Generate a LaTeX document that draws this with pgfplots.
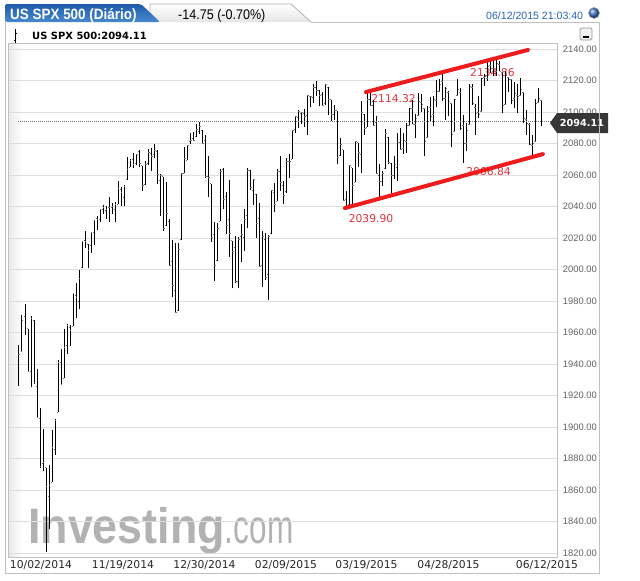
\documentclass[border=0pt]{standalone}
\usepackage{fontspec}
\setmainfont{DejaVu Sans}
\newfontfamily\arialf{Liberation Sans}
\usepackage{graphicx}
\usepackage{pgfplots}
\usepackage{pgfplotstable}
\pgfplotsset{compat=1.18}

\definecolor{gridc}{RGB}{222,222,222}
\definecolor{framec}{RGB}{192,192,192}
\definecolor{chan}{RGB}{238,28,28}
\definecolor{annot}{RGB}{222,50,60}
\definecolor{wmark}{RGB}{178,178,178}
\definecolor{tabblue}{RGB}{30,92,170}
\definecolor{tabblue2}{RGB}{72,136,208}
\definecolor{datec}{RGB}{40,100,180}
\definecolor{lastc}{RGB}{55,55,55}

% daily OHLC, i = trading day since 10/02/2014
\pgfplotstableread{
i o h l c
0 1945.83 1952.32 1926.03 1946.17
1 1948.12 1971.19 1948.12 1967.90
2 1970.01 1977.84 1958.43 1964.82
3 1962.36 1962.36 1934.87 1935.10
4 1935.55 1970.36 1925.25 1968.89
5 1967.68 1967.68 1927.56 1928.21
6 1925.63 1936.98 1906.05 1906.13
7 1905.65 1912.09 1874.14 1874.74
8 1877.11 1898.71 1871.79 1877.70
9 1874.18 1874.18 1820.66 1862.49
10 1855.95 1876.01 1835.02 1862.76
11 1864.91 1898.16 1864.91 1886.76
12 1885.62 1905.03 1882.30 1904.01
13 1909.38 1942.45 1909.38 1941.28
14 1941.29 1949.31 1926.83 1927.11
15 1931.02 1961.95 1931.02 1950.82
16 1951.59 1965.27 1946.27 1964.58
17 1962.97 1964.64 1951.37 1961.63
18 1964.14 1985.05 1964.14 1985.05
19 1983.29 1991.40 1969.04 1982.30
20 1979.49 1999.40 1974.75 1994.65
21 2001.20 2018.19 2001.20 2018.05
22 2018.21 2024.46 2013.68 2017.81
23 2015.81 2015.98 2001.01 2012.10
24 2015.29 2023.77 2010.72 2023.57
25 2023.33 2031.61 2015.86 2031.21
26 2032.36 2034.26 2025.07 2031.92
27 2032.01 2038.70 2030.17 2038.26
28 2038.20 2041.28 2035.28 2039.68
29 2037.75 2040.33 2031.95 2038.25
30 2039.21 2046.18 2030.44 2039.33
31 2039.74 2042.22 2035.20 2039.82
32 2038.29 2043.07 2030.20 2041.32
33 2041.48 2056.08 2041.48 2051.80
34 2051.16 2052.14 2040.37 2048.72
35 2045.87 2053.84 2040.49 2052.75
36 2057.46 2071.46 2056.75 2063.50
37 2065.07 2070.17 2065.07 2069.41
38 2070.15 2074.21 2064.75 2067.03
39 2067.36 2073.29 2066.62 2072.83
40 2074.78 2075.76 2065.06 2067.56
41 2065.78 2065.78 2049.57 2053.44
42 2053.77 2068.77 2053.77 2066.55
43 2067.45 2076.28 2066.65 2074.33
44 2073.64 2077.34 2062.34 2071.92
45 2072.78 2079.47 2070.81 2075.37
46 2074.84 2075.78 2054.27 2060.31
47 2056.55 2060.60 2034.17 2059.82
48 2058.86 2058.86 2024.26 2026.14
49 2027.92 2055.53 2027.92 2035.33
50 2030.36 2032.25 2002.33 2002.33
51 2005.03 2018.69 1982.26 1989.63
52 1986.71 2016.89 1972.56 1972.74
53 1973.77 2016.75 1973.77 2012.89
54 2018.98 2061.23 2018.98 2061.23
55 2061.04 2077.85 2061.03 2070.65
56 2069.28 2078.76 2069.28 2078.54
57 2081.48 2086.73 2079.77 2082.17
58 2083.25 2087.56 2081.86 2081.88
59 2084.30 2092.70 2084.30 2088.77
60 2087.63 2093.55 2085.75 2090.57
61 2088.49 2088.49 2079.53 2080.35
62 2082.11 2085.58 2057.94 2058.90
63 2058.90 2072.36 2046.04 2058.20
64 2054.44 2054.44 2017.34 2020.58
65 2022.15 2030.25 1992.44 2002.61
66 2005.55 2029.61 2005.55 2025.90
67 2030.61 2064.08 2030.61 2062.14
68 2063.45 2064.43 2038.33 2044.81
69 2046.13 2049.30 2022.58 2028.26
70 2031.58 2056.93 2008.25 2023.03
71 2018.40 2018.40 1988.44 2011.27
72 2013.75 2021.35 1991.47 1992.67
73 1992.25 2020.46 1988.12 2019.42
74 2020.76 2028.94 2004.49 2022.55
75 2020.19 2038.29 2012.04 2032.12
76 2034.30 2064.62 2026.38 2063.15
77 2062.98 2062.98 2050.54 2051.82
78 2050.42 2057.62 2040.97 2057.09
79 2047.86 2047.86 2019.91 2029.55
80 2032.34 2042.49 2001.49 2002.16
81 2002.45 2024.64 1989.18 2021.25
82 2019.35 2023.32 1993.38 1994.99
83 1996.67 2021.66 1980.90 2020.85
84 2022.71 2050.30 2022.71 2050.03
85 2048.86 2054.74 2036.72 2041.51
86 2043.45 2063.55 2043.45 2062.52
87 2062.28 2072.40 2049.97 2055.47
88 2053.47 2056.16 2041.88 2046.74
89 2049.38 2070.86 2048.62 2068.59
90 2068.55 2073.48 2057.99 2068.53
91 2069.98 2088.53 2069.98 2088.48
92 2088.78 2097.03 2086.70 2096.99
93 2096.47 2101.30 2089.80 2100.34
94 2099.16 2100.23 2092.15 2099.68
95 2099.25 2102.13 2090.79 2097.45
96 2097.65 2110.61 2085.44 2110.30
97 2109.83 2110.05 2103.00 2109.66
98 2109.10 2117.94 2105.87 2115.48
99 2115.30 2119.59 2109.89 2113.86
100 2113.91 2113.91 2103.76 2110.74
101 2110.88 2112.74 2103.75 2104.50
102 2105.23 2117.52 2104.50 2117.39
103 2115.76 2115.76 2098.26 2107.78
104 2107.72 2107.72 2094.49 2098.53
105 2098.54 2104.25 2095.22 2101.04
106 2100.91 2100.91 2067.27 2071.26
107 2072.25 2083.49 2072.21 2079.43
108 2076.14 2076.14 2044.16 2044.16
109 2044.69 2050.08 2039.69 2040.24
110 2041.10 2066.41 2041.10 2065.95
111 2064.56 2064.56 2041.17 2053.40
112 2055.35 2081.41 2055.35 2081.19
113 2080.59 2080.59 2065.08 2074.28
114 2072.84 2106.85 2061.23 2099.50
115 2098.69 2098.69 2085.56 2089.27
116 2090.32 2113.92 2090.32 2108.10
117 2107.99 2114.86 2104.42 2104.42
118 2103.94 2107.63 2091.50 2091.50
119 2093.10 2097.43 2061.05 2061.05
120 2059.94 2067.15 2045.50 2056.15
121 2055.78 2062.83 2052.96 2061.02
122 2064.11 2088.97 2064.11 2086.24
123 2084.05 2084.05 2067.04 2067.89
124 2067.63 2067.63 2048.38 2059.69
125 2060.03 2072.17 2057.32 2066.96
126 2064.87 2086.99 2056.52 2080.62
127 2080.79 2089.81 2076.10 2076.33
128 2076.94 2086.69 2073.30 2081.90
129 2081.29 2093.31 2074.29 2091.18
130 2091.51 2102.61 2091.51 2102.06
131 2102.03 2107.65 2092.33 2092.43
132 2092.28 2098.62 2083.24 2095.84
133 2097.82 2111.91 2097.82 2106.63
134 2105.96 2111.30 2100.02 2104.99
135 2102.58 2102.58 2072.37 2081.18
136 2084.11 2103.94 2084.11 2100.40
137 2102.82 2109.64 2094.38 2097.29
138 2098.27 2109.98 2091.05 2107.96
139 2107.21 2120.49 2103.19 2112.93
140 2112.80 2120.92 2112.80 2117.69
141 2119.29 2125.92 2107.04 2108.92
142 2108.35 2116.04 2094.89 2114.76
143 2112.49 2113.65 2097.41 2106.85
144 2105.52 2105.52 2077.59 2085.51
145 2087.38 2108.41 2087.38 2108.29
146 2110.23 2120.95 2110.23 2114.49
147 2112.63 2115.24 2088.46 2089.46
148 2091.26 2098.42 2067.93 2080.15
149 2079.96 2092.90 2074.99 2088.00
150 2092.13 2117.66 2092.13 2116.10
151 2115.56 2117.69 2104.58 2105.33
152 2102.87 2105.06 2085.57 2099.12
153 2099.62 2110.19 2096.04 2098.48
154 2100.43 2121.45 2100.43 2121.10
155 2122.07 2123.89 2116.81 2122.73
156 2121.30 2131.78 2120.01 2129.20
157 2129.45 2133.02 2124.50 2127.83
158 2127.79 2134.72 2122.59 2125.85
159 2125.55 2134.28 2122.95 2130.82
160 2130.36 2132.15 2126.06 2126.06
161 2125.34 2125.34 2099.18 2104.20
162 2105.13 2126.22 2105.13 2123.48
163 2122.27 2122.27 2112.86 2120.79
164 2120.66 2120.66 2104.89 2107.39
165 2108.64 2119.15 2102.54 2111.73
166 2110.41 2117.59 2099.14 2109.60
167 2110.64 2121.92 2110.64 2114.07
168 2112.35 2112.89 2093.23 2095.84
169 2095.09 2100.99 2085.67 2092.83
170 2092.34 2093.01 2079.11 2079.28
171 2079.07 2085.62 2072.14 2080.15
172 2081.12 2108.50 2081.12 2105.20
173 2106.24 2115.02 2106.24 2108.86
174 2107.43 2107.43 2091.33 2094.11
}\ohlc

\begin{document}
\begin{tikzpicture}
\path[use as bounding box, fill=white] (0,0) rectangle (640bp,-581bp);

\begin{scope}[x=1bp, y=-1bp]
  % soft shade at the left edge of the plot area
  \shade[left color=black!9, right color=white] (8,44) rectangle (22,557);
  % watermark
  \node[anchor=base west, inner sep=0, text=wmark] at (28,543)
    {\scalebox{0.9}[1]{\arialf\bfseries\fontsize{50}{50}\selectfont Investing}\scalebox{0.66}[1]{\arialf\fontsize{48}{48}\selectfont .com}};
\end{scope}

\begin{axis}[
  at={(8bp,-557bp)}, anchor=south west,
  width=549bp, height=513bp, scale only axis,
  xmin=-3.66, xmax=179.1, ymin=1817.5, ymax=2143.2,
  axis line style={framec, line width=1bp},
  major tick length=0pt,
  ytick={1820,1840,...,2140},
  xtick={7.32,34.62,61.75,88.88,115.68,142.98,175.77},
  xticklabels={10/02/2014,11/19/2014,12/30/2014,02/09/2015,03/19/2015,04/28/2015,06/12/2015},
  ymajorgrids, grid style={gridc, line width=1bp},
  yticklabel pos=right,
  /pgf/number format/assume math mode=true,
  y tick label style={/pgf/number format/fixed, /pgf/number format/fixed zerofill,
    /pgf/number format/precision=2, /pgf/number format/1000 sep={},
    font=\arialf\fontsize{9.4}{10}\selectfont, text=black!62,
    anchor=east, inner sep=0pt, xshift=40bp},
  x tick label style={font=\fontsize{10.8}{12}\selectfont, text=black!85,
    anchor=north, inner sep=0pt, yshift=-3bp},
]
  % channel labels (behind the bars)
  \node[text=annot, font=\fontsize{10.8}{12}\selectfont] at (axis cs:117.2,2032.1) {2039.90};
  \node[text=annot, font=\fontsize{10.8}{12}\selectfont] at (axis cs:124.7,2108.3) {2114.32};
  \node[text=annot, font=\fontsize{10.8}{12}\selectfont] at (axis cs:157.6,2124.8) {2134.86};
  \node[text=annot, font=\fontsize{10.8}{12}\selectfont] at (axis cs:156.3,2061.9) {2066.84};

  % high-low
  \addplot[black, line width=1bp, quiver={u=0, v=\thisrow{h}-\thisrow{l}}]
    table[x=i, y=l] {\ohlc};
  % open tick
  \addplot[black!55, line width=0.9bp, quiver={u=0.45, v=0}]
    table[x expr=\thisrow{i}-0.45, y=o] {\ohlc};
  % close tick
  \addplot[black!55, line width=0.9bp, quiver={u=0.45, v=0}]
    table[x=i, y=c] {\ohlc};

  % last price
  \addplot[black!55, line width=1bp, dash pattern=on 1bp off 1bp]
    coordinates {(-0.3,2094.11) (179.1,2094.11)};

  % channel
  \addplot[chan, line width=4bp, line cap=round] coordinates {(115.5,2112.7) (169.4,2139.4)};
  \addplot[chan, line width=4bp, line cap=round] coordinates {(108.5,2039.05) (174.4,2073.3)};
\end{axis}

\begin{scope}[x=1bp, y=-1bp]
  % last price flag
  \fill[lastc] (550,123) -- (557,113) -- (608,113) -- (608,133) -- (557,133) -- cycle;
  \node[text=white, font=\bfseries\fontsize{9.7}{10}\selectfont, inner sep=0] at (582,123) {2094.11};

  % panel frame
  \draw[framec, line width=1bp] (5,22) -- (5,573) -- (599,573) -- (599,22) -- (311,22);

  % tabs
  \shade[top color=white, bottom color=black!10, draw=black!30, line width=0.8bp]
    (150,22) -- (150,4) -- (291,4) -- (311,22);
  \shade[top color=tabblue, bottom color=tabblue2, rounded corners=2bp]
    (5,22) -- (5,4) -- (141,4) -- (160,22) -- cycle;
  \node[anchor=base west, inner sep=0, text=white] at (10,19)
    {\scalebox{0.9}[1]{\arialf\bfseries\fontsize{15}{15}\selectfont US SPX 500 (Diário)}};
  \node[anchor=base west, inner sep=0, text=black] at (178,19)
    {\scalebox{0.9}[1]{\arialf\fontsize{14}{14}\selectfont -14.75 (-0.70\%)}};
  \node[anchor=base west, inner sep=0, text=datec] at (486,19)
    {\arialf\fontsize{10.6}{11}\selectfont 06/12/2015 21:03:40};
  \shade[ball color={rgb,255:red,70;green,120;blue,205}] (594,13) circle (5.5);
  \draw[black!35, line width=0.6bp] (594,13) circle (5.5);

  % second row
  \draw[black, line width=1bp] (15.7,29) -- (15.7,43) (14,40) -- (15.7,40) (15.7,33) -- (17.3,33);
  \node[anchor=base west, inner sep=0, text=black] at (32,39.6)
    {\bfseries\fontsize{10}{11}\selectfont US SPX 500:2094.11};
  \draw[fill=black!5, draw=black!40, rounded corners=1.5bp, line width=0.8bp] (580,28) rectangle (592,40);
  \fill[black] (583,35.5) rectangle (589,37.5);
\end{scope}
\end{tikzpicture}
\end{document}
